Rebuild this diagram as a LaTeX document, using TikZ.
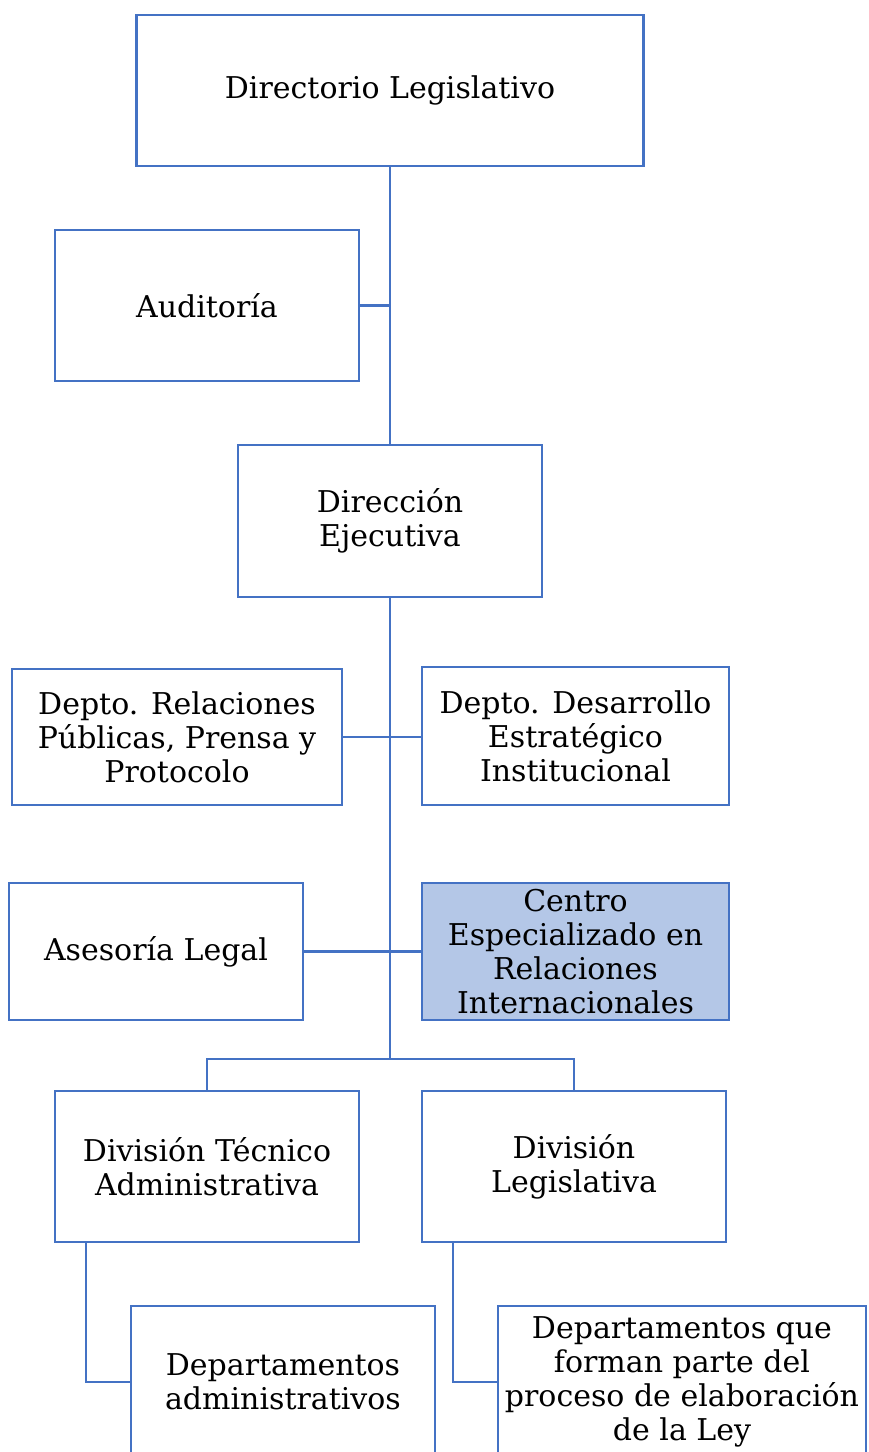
\documentclass[tikz,border=0pt]{standalone}
\usepackage{fontspec}
\setmainfont{DejaVu Serif}
\definecolor{lineblue}{HTML}{4472C4}
\definecolor{fillblue}{HTML}{B4C7E7}
\tikzset{
  box/.style={draw=lineblue, line width=2.5pt, fill=white, inner sep=0pt, align=center,
    font=\fontsize{30}{34}\selectfont, text=black},
  hi/.style={box, fill=fillblue},
  conn/.style={draw=lineblue, line width=2.5pt}
}
\begin{document}
\begin{tikzpicture}[x=1pt,y=-1pt]
\useasboundingbox (0,0) rectangle (869,1452);
\clip (0,0) rectangle (869,1452);
\fill[white] (0,0) rectangle (869,1452);
% nodes
\node[box, minimum width=507pt, minimum height=151pt] (dl) at (390,90.5) {Directorio Legislativo};
\node[box, minimum width=304pt, minimum height=151pt] (au) at (207,305.5) {Auditoría};
\node[box, minimum width=304pt, minimum height=152pt] (de) at (390,521) {Dirección\\Ejecutiva};
\node[box, minimum width=330pt, minimum height=136pt] (rp) at (177,737) {Depto. Relaciones\\Públicas, Prensa y\\Protocolo};
\node[box, minimum width=307pt, minimum height=138pt] (dd) at (575.5,736) {Depto. Desarrollo\\Estratégico\\Institucional};
\node[box, minimum width=294pt, minimum height=137pt] (al) at (156,951.5) {Asesoría Legal};
\node[hi, minimum width=307pt, minimum height=137pt] (ce) at (575.5,951.5) {Centro\\Especializado en\\Relaciones\\Internacionales};
\node[box, minimum width=304pt, minimum height=151pt] (dt) at (207,1166.5) {División Técnico\\Administrativa};
\node[box, minimum width=304pt, minimum height=151pt] (dv) at (574,1166.5) {División\\Legislativa};
\node[box, minimum width=304pt, minimum height=152pt] (da) at (283,1382) {Departamentos\\administrativos};
\node[box, minimum width=368pt, minimum height=152pt] (dp) at (682,1382) {Departamentos que\\forman parte del\\proceso de elaboración\\de la Ley};
% connectors
\coordinate (j1) at (390,305.5);
\coordinate (j4) at (390,1059);
\draw[conn] (dl.south) -- (de.north);
\draw[conn] (au.east) -- (j1);
\draw[conn] (de.south) -- (j4);
\draw[conn] (rp.east) -- (rp.east -| dd.west);
\draw[conn] (al.east) -- (ce.west);
\draw[conn] (dt.north) |- (j4) -| (dv.north);
\draw[conn] (dt.south -| 86,0) |- (da.west);
\draw[conn] (dv.south -| 453,0) |- (dp.west);
\end{tikzpicture}
\end{document}
